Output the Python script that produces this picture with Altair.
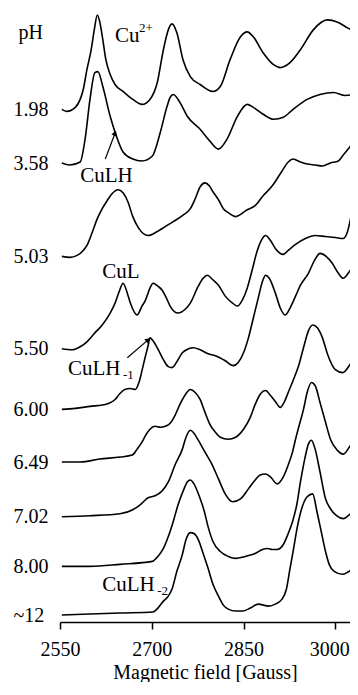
import altair as alt
import pandas as pd

# ---------------- data ----------------
PH_LABELS = ["1.98", "3.58", "5.03", "5.50", "6.00", "6.49", "7.02", "8.00", "~12"]
OFFSETS = [516, 461, 368, 275, 214, 161, 106, 56, 7]   # vertical stacking offset of each spectrum
PH_TITLE = "pH"
PH_TITLE_POS = 593

F_198 = [2553,2561,2575,2583,2588,2594,2601,2606,2611,2615,2620,2625,2632,2640,2653,2669,2684,2697,2709,2719,2727,2733,2741,2751,2763,2779,2800,2812,2828,2845,2856,2866,2882,2899,2910,2926,2943,2964,2987,3003,3020,3036]
I_198 = [0,-2,2,10,20,40,60,80,95,88,70,50,35,25,18,10,5,10,27,60,80,86,77,50,33,25,18,23,50,73,78,73,57,45,42,47,60,80,90,88,82,77]

F_358 = [2553,2566,2583,2591,2599,2607,2612,2620,2632,2640,2653,2669,2684,2701,2714,2725,2730,2735,2746,2758,2779,2795,2809,2823,2840,2856,2866,2882,2899,2915,2931,2954,2975,2997,3016,3028,3036]
I_358 = [1,-1,2,25,65,92,93,78,48,32,12,5,3,8,32,58,67,70,62,48,35,23,15,25,48,60,57,50,45,47,55,65,70,72,69,70,75]

F_503 = [2553,2566,2578,2588,2594,2602,2611,2619,2627,2635,2645,2653,2661,2669,2678,2694,2709,2722,2735,2750,2763,2771,2779,2787,2794,2800,2809,2817,2825,2837,2856,2869,2882,2897,2913,2923,2931,2943,2954,2967,2979,2992,3005,3013,3021,3030,3038]
I_503 = [0,-1,1,6,11,23,38,48,56,63,67,64,55,40,29,21,25,30,35,41,48,58,70,74,71,65,57,48,44,40,47,51,61,71,86,95,98,95,93,92,91,94,96,102,108,116,125]

F_550 = [2553,2570,2583,2594,2607,2619,2632,2640,2647,2653,2660,2665,2676,2684,2689,2697,2702,2710,2717,2724,2730,2743,2755,2763,2776,2784,2791,2799,2809,2820,2832,2840,2848,2856,2864,2872,2879,2886,2894,2902,2915,2923,2935,2951,2967,2984,3000,3013,3020,3025,3031,3038]
I_550 = [0,-1,2,7,16,24,36,46,58,66,56,46,34,43,48,61,66,63,59,51,43,36,40,46,63,71,74,70,64,53,46,43,49,61,79,98,109,114,109,101,95,99,105,111,114,113,112,111,118,131,146,166]

F_600 = [2553,2575,2599,2624,2640,2648,2656,2665,2673,2679,2684,2689,2694,2697,2702,2709,2719,2727,2733,2742,2750,2760,2768,2779,2792,2804,2820,2833,2841,2850,2858,2866,2874,2881,2886,2892,2902,2910,2918,2926,2935,2943,2956,2966,2975,2985,2995,3005,3013,3021,3028,3036]
I_600 = [0,1,3,5,10,16,20,21,20,27,39,52,64,72,69,62,50,43,42,49,57,61,62,60,56,54,49,44,47,57,72,92,112,129,135,132,117,102,95,102,114,125,137,150,157,154,147,137,132,137,144,157]

F_649 = [2553,2583,2615,2648,2668,2676,2684,2691,2697,2705,2714,2722,2730,2738,2746,2755,2763,2771,2779,2787,2795,2804,2812,2825,2837,2850,2861,2869,2877,2886,2894,2902,2910,2917,2923,2931,2940,2948,2956,2963,2971,2979,2987,3000,3012,3025,3036]
I_649 = [0,0,3,5,7,13,20,28,33,36,35,36,39,47,58,68,73,70,63,50,38,30,25,23,25,33,45,58,68,72,67,61,55,61,70,82,97,115,132,138,135,125,109,93,90,99,109]

F_702 = [2553,2599,2648,2669,2681,2694,2705,2717,2727,2738,2750,2756,2763,2769,2776,2787,2799,2809,2820,2832,2845,2858,2869,2877,2886,2894,2905,2915,2923,2930,2935,2941,2948,2954,2961,2967,2975,2984,2992,3003,3013,3025,3036]
I_702 = [0,1,3,7,12,19,21,26,35,52,68,80,87,84,77,65,52,38,23,15,18,28,37,42,43,40,33,40,52,65,78,92,108,125,135,132,115,95,78,67,63,72,80]

F_800 = [2553,2599,2648,2701,2710,2719,2727,2735,2743,2752,2758,2763,2769,2778,2786,2792,2800,2812,2825,2837,2853,2869,2881,2889,2897,2905,2915,2923,2930,2937,2943,2950,2956,2961,2967,2975,2984,2992,3002,3013,3025,3036]
I_800 = [0,0,2,5,10,18,30,45,62,77,85,87,83,70,55,40,25,15,10,8,10,13,17,18,17,17,22,33,45,62,85,108,123,127,118,95,68,58,51,48,53,57]

F_12 = [2553,2599,2648,2702,2710,2719,2727,2733,2741,2750,2756,2763,2769,2776,2784,2792,2800,2809,2817,2825,2837,2848,2861,2874,2891,2902,2913,2920,2926,2931,2938,2946,2954,2963,2970,2977,2984,2990,2998,3012,3020,3028,3036]
I_12 = [0,1,2,3,7,14,19,26,44,61,76,83,82,76,62,47,31,19,10,6,4,4,7,11,9,11,16,26,47,64,89,109,119,122,104,84,64,51,44,41,43,46,47]

SPECTRA = [(F_198, I_198), (F_358, I_358), (F_503, I_503), (F_550, I_550), (F_600, I_600),
           (F_649, I_649), (F_702, I_702), (F_800, I_800), (F_12, I_12)]

# annotations: (text, field, height, font size)
ANN_TEXT = ["Cu", "2+", "CuLH", "CuL", "CuLH", "-1", "CuLH", "-2"]
ANN_FIELD = [2640, 2679, 2583, 2619, 2563, 2653, 2619, 2709]
ANN_Y = [584, 594, 443, 346, 249, 245, 31, 27]
ANN_SIZE = [21, 13, 21, 21, 21, 13, 21, 13]

# arrows: tail -> tip
ARROW_F = [2624, 2660]
ARROW_Y = [466, 266]
ARROW_F2 = [2640, 2694]
ARROW_Y2 = [492, 284]
ARROW_ANGLE = [21, 49]

TICKS = [2550, 2700, 2850, 3000]
X_DOMAIN = [2550, 3024]
Y_DOMAIN = [0, 618]

# ---------------- build tables ----------------
rows = []
for k, (fs, ins) in enumerate(SPECTRA):
    for f, v in zip(fs, ins):
        rows.append({"field": f, "y": OFFSETS[k] + v, "trace": PH_LABELS[k]})
spec_df = pd.DataFrame(rows)

ann_df = pd.DataFrame({"text": ANN_TEXT, "field": ANN_FIELD, "y": ANN_Y, "size": ANN_SIZE})
arr_df = pd.DataFrame({"field": ARROW_F, "y": ARROW_Y, "field2": ARROW_F2, "y2": ARROW_Y2,
                       "angle": ARROW_ANGLE})

FONT = "Liberation Serif"

label_vals = OFFSETS + [PH_TITLE_POS]
label_names = PH_LABELS + [PH_TITLE]
expr = "''"
for v, n in zip(reversed(label_vals), reversed(label_names)):
    expr = f"datum.value == {v} ? '{n}' : ({expr})"

xscale = alt.Scale(domain=X_DOMAIN, nice=False, zero=False)
yscale = alt.Scale(domain=Y_DOMAIN, nice=False, zero=False)

x_axis = alt.Axis(values=TICKS, tickSize=7, tickWidth=1.5, tickColor="black",
                  domainColor="black", domainWidth=1.5, grid=False,
                  labelFont=FONT, labelFontSize=20, labelColor="black",
                  labelPadding=26, labelBaseline="alphabetic", labelFlush=False,
                  labelOffset={"condition": {"test": f"datum.value == {TICKS[-1]}", "value": -6},
                               "value": 0},
                  title="Magnetic field [Gauss]", titleFont=FONT, titleFontSize=20,
                  titleFontWeight="normal", titleColor="black", titleY=56,
                  titleBaseline="alphabetic", format="d")
y_axis = alt.Axis(values=label_vals, labelExpr=expr, domain=False, ticks=False, tickSize=0,
                  grid=False, labelAlign="left",
                  labelPadding={"condition": {"test": f"datum.value == {PH_TITLE_POS}", "value": 42},
                                "value": 47},
                  labelBaseline="middle",
                  labelFont=FONT, labelFontSize=20, labelColor="black",
                  labelOverlap=False, labelFlush=False)

lines = alt.Chart(spec_df).mark_line(color="black", strokeWidth=1.6, clip=True,
                                     interpolate="monotone").encode(
    x=alt.X("field:Q", scale=xscale, axis=x_axis),
    y=alt.Y("y:Q", scale=yscale, axis=y_axis, title=None),
    detail="trace:N",
    order="field:Q",
)

texts = alt.Chart(ann_df).mark_text(font=FONT, color="black", align="left",
                                    baseline="alphabetic").encode(
    x=alt.X("field:Q", scale=xscale),
    y=alt.Y("y:Q", scale=yscale),
    text="text:N",
    size=alt.Size("size:Q", scale=None, legend=None),
)

arrow_lines = alt.Chart(arr_df).mark_rule(color="black", strokeWidth=1.2).encode(
    x=alt.X("field:Q", scale=xscale),
    y=alt.Y("y:Q", scale=yscale),
    x2="field2:Q",
    y2="y2:Q",
)
arrow_heads = alt.Chart(arr_df).mark_point(shape="triangle-up", filled=True, color="black",
                                           size=35, opacity=1).encode(
    x=alt.X("field2:Q", scale=xscale),
    y=alt.Y("y2:Q", scale=yscale),
    angle=alt.Angle("angle:Q", scale=None),
)

chart = alt.layer(lines, texts, arrow_lines, arrow_heads).properties(
    width=290, height=614,
    autosize=alt.AutoSizeParams(type="none"),
    padding={"left": 52, "top": 0, "right": 0, "bottom": 60},
    background="white",
).configure_view(stroke=None)

chart.save("out.html", embed_options={"renderer": "svg", "actions": False})
